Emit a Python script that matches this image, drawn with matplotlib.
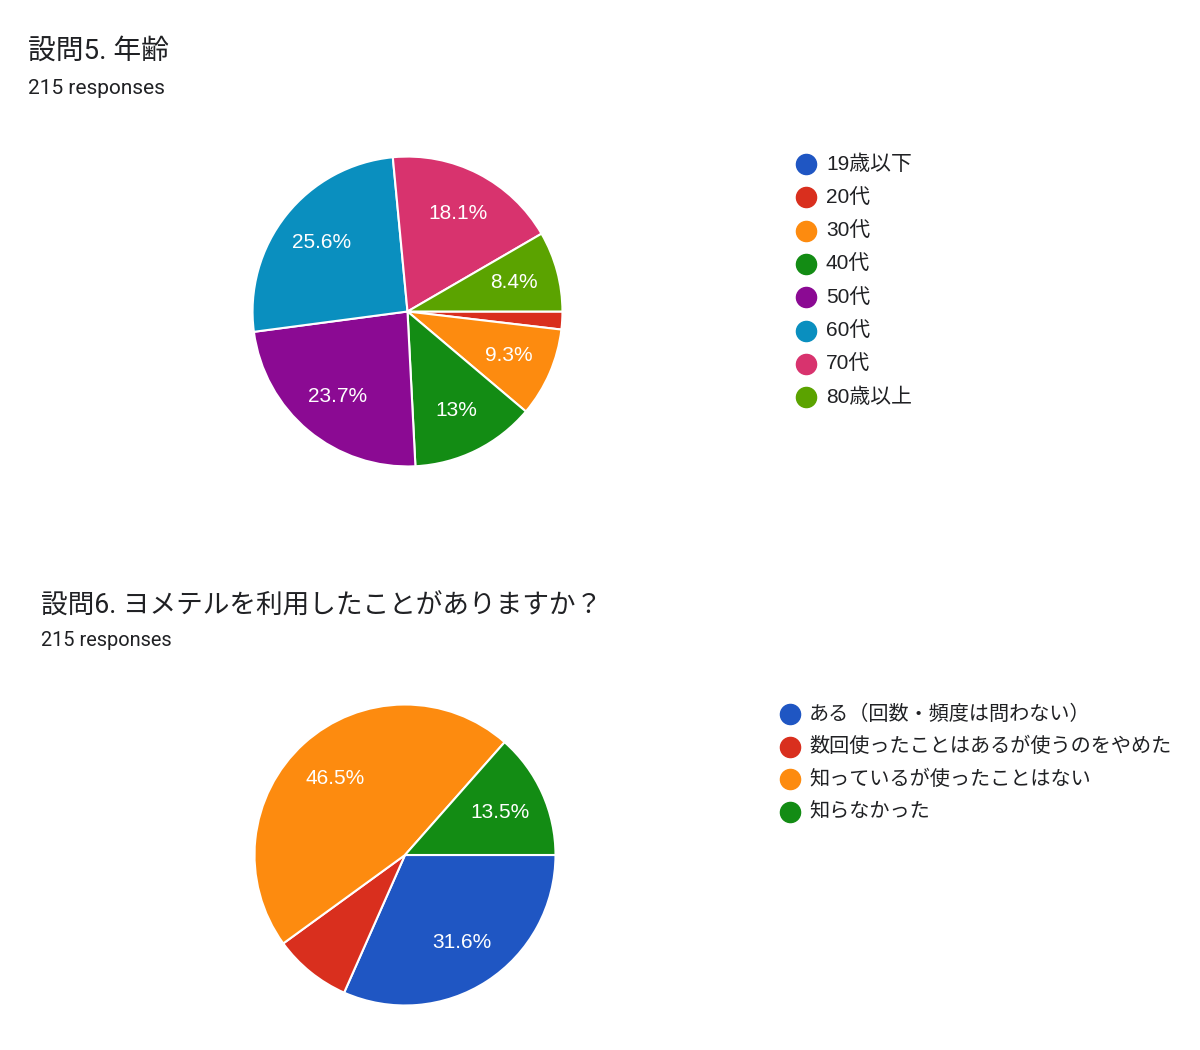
import matplotlib.pyplot as plt

W, H = 1200, 1050
JP = ['Liberation Sans', 'Noto Sans CJK JP', 'DejaVu Sans']
TITLE_FONT = ['Roboto', 'Noto Sans CJK JP', 'DejaVu Sans']
TEXT = '#202124'

# chart 1 data
age_labels = ['19歳以下', '20代', '30代', '40代', '50代', '60代', '70代', '80歳以上']
age_counts = [0, 4, 20, 28, 51, 55, 39, 18]
age_colors = ['#1f56c3', '#d92f1e', '#fd8b0f', '#138c14', '#8b0a93', '#0a8fbf', '#d8336e', '#5ba300']

# chart 2 data
use_labels = ['ある（回数・頻度は問わない）', '数回使ったことはあるが使うのをやめた',
              '知っているが使ったことはない', '知らなかった']
use_counts = [68, 18, 100, 29]
use_colors = ['#1f56c3', '#d92f1e', '#fd8b0f', '#138c14']

n_responses = 215


def fmt_pct(p, min_pct):
    if p < min_pct:
        return ''
    return f"{p:.1f}".rstrip('0').rstrip('.') + '%'


def px_axes(fig, left, top, width, height):
    return fig.add_axes([left / W, 1 - (top + height) / H, width / W, height / H])


def draw_pie(fig, cx, cy, r, counts, colors, min_pct, pct_dist):
    ax = px_axes(fig, cx - r, cy - r, 2 * r, 2 * r)
    ax.pie(counts, colors=colors, startangle=0, counterclock=False,
           autopct=lambda p: fmt_pct(p, min_pct), pctdistance=pct_dist,
           wedgeprops=dict(edgecolor='white', linewidth=1.5),
           textprops=dict(color='white', fontsize=15, family=JP))
    ax.set_xlim(-1.01, 1.01)
    ax.set_ylim(-1.01, 1.01)
    ax.axis('off')
    return ax


def draw_legend(fig, x_dot, x_text, y0, dy, labels, colors, fs):
    ax = px_axes(fig, 0, 0, W, H)
    ax.set_xlim(0, W)
    ax.set_ylim(H, 0)
    ax.axis('off')
    for i, (lab, col) in enumerate(zip(labels, colors)):
        y = y0 + i * dy
        ax.plot([x_dot], [y], 'o', ms=14.5, color=col, mec=col)
        ax.text(x_text, y, lab, fontsize=fs, family=JP, color=TEXT,
                va='center', ha='left')


fig = plt.figure(figsize=(W / 100, H / 100), dpi=100)
fig.patch.set_facecolor('white')

# chart 1
fig.text(28 / W, 1 - 51 / H, '設問5. 年齢', fontsize=20, family=TITLE_FONT,
         color=TEXT, va='center', ha='left')
fig.text(28 / W, 1 - 89 / H, f'{n_responses} responses', fontsize=15, family=TITLE_FONT,
         color=TEXT, va='center', ha='left')
draw_pie(fig, 407.5, 311.5, 156.5, age_counts, age_colors, 5, 0.71)
draw_legend(fig, 806, 826, 164, 33.3, age_labels, age_colors, 15)

# chart 2
fig.text(41 / W, 1 - 606 / H, '設問6. ヨメテルを利用したことがありますか？', fontsize=19.2,
         family=TITLE_FONT, color=TEXT, va='center', ha='left')
fig.text(41 / W, 1 - 641 / H, f'{n_responses} responses', fontsize=14.4, family=TITLE_FONT,
         color=TEXT, va='center', ha='left')
draw_pie(fig, 405, 855, 152, use_counts, use_colors, 10, 0.69)
draw_legend(fig, 790, 809, 714, 32.5, use_labels, use_colors, 14.5)

fig.savefig('out.png', dpi=100, facecolor='white')
